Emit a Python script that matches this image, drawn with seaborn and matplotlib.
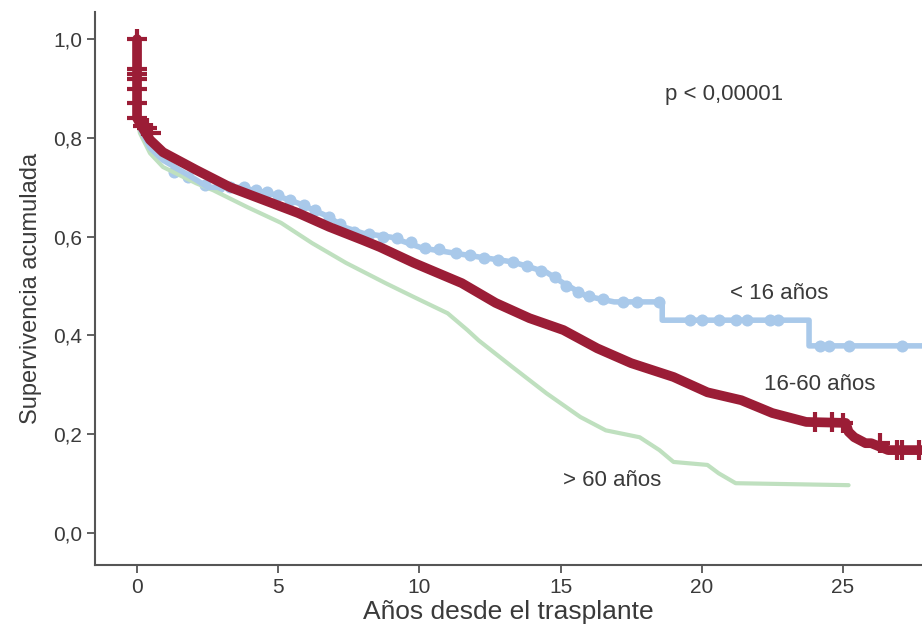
import numpy as np
import pandas as pd
import seaborn as sns
import matplotlib.pyplot as plt

# Curvas de supervivencia (Kaplan-Meier)
x_joven = [0, 0, 0.1, 0.46, 0.92, 2.1, 2.5, 3.6, 4.7, 5.7, 6.8, 7.3, 8.0, 9.0, 10.1, 12.1,
           13.3, 14.5, 15.1, 15.9, 16.9, 18.6, 18.6, 23.8, 23.8, 27.8]
y_joven = [1.0, 0.86, 0.82, 0.78, 0.755, 0.715, 0.70, 0.70, 0.688, 0.668, 0.64, 0.62, 0.607,
           0.599, 0.577, 0.559, 0.549, 0.528, 0.506, 0.48, 0.468, 0.468, 0.431, 0.431, 0.379, 0.379]

x_adulto = [0, 0, 0.1, 0.2, 0.46, 0.92, 2.1, 3.3, 4.5, 5.7, 6.8, 8.0, 8.6, 9.8, 11.5, 12.7,
            13.9, 15.1, 16.3, 17.5, 19.0, 20.2, 21.4, 22.5, 23.7, 25.1, 25.2, 25.4, 25.8,
            26.0, 26.6, 27.8]
y_adulto = [1.0, 0.84, 0.83, 0.82, 0.796, 0.771, 0.735, 0.70, 0.674, 0.648, 0.62, 0.593,
            0.579, 0.547, 0.506, 0.466, 0.435, 0.411, 0.374, 0.344, 0.316, 0.285, 0.269,
            0.243, 0.225, 0.223, 0.205, 0.194, 0.182, 0.182, 0.168, 0.168]

x_mayor = [0, 0, 0.1, 0.46, 0.92, 2.1, 2.7, 3.9, 5.1, 6.2, 7.4, 8.8, 9.8, 11.0, 11.7, 12.1,
           13.3, 14.5, 15.7, 16.6, 17.8, 18.5, 19.0, 20.2, 20.6, 21.2, 25.2]
y_mayor = [1.0, 0.85, 0.81, 0.769, 0.741, 0.708, 0.694, 0.66, 0.628, 0.587, 0.547, 0.506,
           0.478, 0.445, 0.411, 0.39, 0.336, 0.283, 0.235, 0.208, 0.194, 0.168, 0.144, 0.138,
           0.121, 0.101, 0.097]

# Marcas de censura
cx_joven = [0.3, 0.7, 1.3, 1.8, 2.4, 2.9, 3.3, 3.8, 4.2, 4.6, 5.0, 5.4, 5.9, 6.3, 6.8, 7.2,
            7.7, 8.2, 8.7, 9.2, 9.7, 10.2, 10.7, 11.3, 11.8, 12.3, 12.8, 13.3, 13.8, 14.3,
            14.8, 15.2, 15.6, 16.0, 16.5, 17.2, 17.7, 18.5, 19.6, 20.0, 20.6, 21.2, 21.6,
            22.4, 22.7, 24.2, 24.5, 25.2, 27.1]
cy_joven = [0.81, 0.77, 0.73, 0.72, 0.705, 0.70, 0.70, 0.70, 0.695, 0.69, 0.685, 0.675,
            0.665, 0.655, 0.64, 0.625, 0.61, 0.605, 0.60, 0.597, 0.59, 0.578, 0.575, 0.567,
            0.562, 0.557, 0.553, 0.549, 0.54, 0.53, 0.518, 0.50, 0.488, 0.48, 0.474, 0.468,
            0.468, 0.468, 0.431, 0.431, 0.431, 0.431, 0.431, 0.431, 0.431, 0.379, 0.379,
            0.379, 0.379]
cx_adulto = [0, 0, 0, 0, 0, 0, 0, 0.2, 0.35, 0.5, 24.0, 24.6, 25.0, 26.3, 26.9, 27.1, 27.7]
cy_adulto = [1.0, 0.94, 0.93, 0.92, 0.90, 0.87, 0.84, 0.825, 0.82, 0.81, 0.225, 0.225,
             0.223, 0.182, 0.168, 0.168, 0.168]

x_ticks = [0, 5, 10, 15, 20, 25]
y_ticks = [0.0, 0.2, 0.4, 0.6, 0.8, 1.0]
y_tick_labels = ['0,0', '0,2', '0,4', '0,6', '0,8', '1,0']

rojo = '#9b1d36'
azul = '#a9c9ea'
verde = '#bfe0bf'
texto = '#3a3a3a'

sns.set_style('ticks')
plt.rcParams['font.family'] = ['Liberation Sans', 'DejaVu Sans']

fig = plt.figure(figsize=(9.22, 6.28), dpi=100)
ax = fig.add_axes([0.103, 0.100, 0.897, 0.881])

df_mayor = pd.DataFrame({'t': x_mayor, 's': y_mayor})
df_joven = pd.DataFrame({'t': x_joven, 's': y_joven})
df_adulto = pd.DataFrame({'t': x_adulto, 's': y_adulto})

sns.lineplot(data=df_mayor, x='t', y='s', sort=False, estimator=None, color=verde,
             linewidth=3, ax=ax)
sns.lineplot(data=df_joven, x='t', y='s', sort=False, estimator=None, color=azul,
             linewidth=4, ax=ax)
sns.scatterplot(x=cx_joven, y=cy_joven, color=azul, s=75, linewidth=0, ax=ax)
sns.lineplot(data=df_adulto, x='t', y='s', sort=False, estimator=None, color=rojo,
             linewidth=7, ax=ax)
ax.plot(cx_adulto, cy_adulto, linestyle='none', marker='+', markersize=15,
        markeredgewidth=3, color=rojo)

ax.set_xlim(-1.49, 27.8)
ax.set_ylim(-0.065, 1.055)
ax.set_xticks(x_ticks)
ax.set_yticks(y_ticks)
ax.set_yticklabels(y_tick_labels)

sns.despine(ax=ax)
for side in ['left', 'bottom']:
    ax.spines[side].set_color('#555555')
    ax.spines[side].set_linewidth(1.5)
ax.tick_params(axis='both', colors='#555555', labelcolor=texto, length=6, width=1.3,
               labelsize=15)
ax.tick_params(axis='y', pad=3)

ax.set_xlabel('Años desde el trasplante', fontsize=19, color=texto, labelpad=2)
ax.set_ylabel('Supervivencia acumulada', fontsize=17, color=texto, labelpad=8)

ax.text(18.7, 0.887, 'p < 0,00001', fontsize=16, color=texto, va='center')
ax.text(21.0, 0.486, '< 16 años', fontsize=16, color=texto, va='center')
ax.text(22.2, 0.30, '16-60 años', fontsize=16, color=texto, va='center')
ax.text(15.1, 0.107, '> 60 años', fontsize=16, color=texto, va='center')

fig.savefig('out.png', dpi=100)
